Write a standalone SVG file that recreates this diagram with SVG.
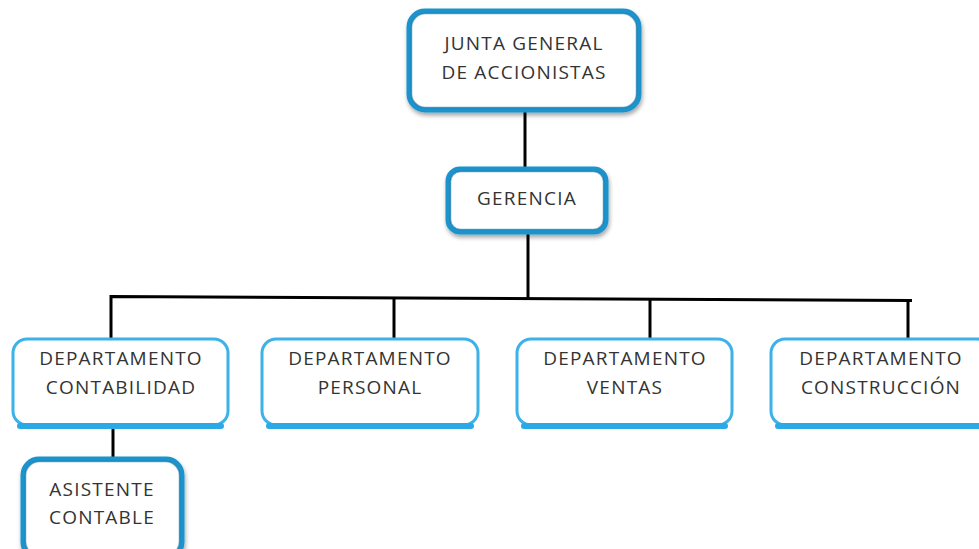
<svg xmlns="http://www.w3.org/2000/svg" width="979" height="549" viewBox="0 0 979 549">
<style>
.dark{fill:#fff;stroke:#1c93cc;stroke-width:5}
.dark2{fill:none;stroke:#0f6f9e;stroke-width:1.5;opacity:0.6}
.light{fill:#fff;stroke:#3cb2e8;stroke-width:3}
.bot{fill:none;stroke:#2aa9e6;stroke-width:6;stroke-linecap:round}
text{font-family:"Open Sans","Liberation Sans",sans-serif;font-size:19px;letter-spacing:1.2px;fill:#333;text-anchor:middle}
.ln{stroke:#000;stroke-width:3;fill:none}
</style>
<defs>
<filter id="sh" x="-10%" y="-10%" width="120%" height="130%"><feDropShadow dx="1" dy="3" stdDeviation="2" flood-color="#000" flood-opacity="0.35"/></filter>
</defs>
<g id="connectors">
<line class="ln" x1="525" y1="112" x2="525" y2="168"/>
<line class="ln" x1="528" y1="234" x2="528" y2="298"/>
<polyline class="ln" points="111,338 111,296.5 912,300.5 908,300.5 908,338"/>
<line class="ln" x1="394" y1="297.5" x2="394" y2="338"/>
<line class="ln" x1="650" y1="299" x2="650" y2="338"/>
<line class="ln" x1="113" y1="428" x2="113" y2="458"/>
</g>
<g id="junta">
<rect class="dark" x="409" y="11" width="230" height="99" rx="16" filter="url(#sh)"/>
<rect class="dark2" x="411.5" y="13.5" width="225" height="94" rx="14"/>
<text x="524" y="50">JUNTA GENERAL</text>
<text x="524" y="79">DE ACCIONISTAS</text>
</g>
<g id="gerencia">
<rect class="dark" x="448" y="169" width="158" height="63" rx="12" filter="url(#sh)"/>
<rect class="dark2" x="450.5" y="171.5" width="153" height="58" rx="10"/>
<text x="527" y="205">GERENCIA</text>
</g>
<g id="dep-contabilidad">
<rect class="light" x="13" y="339" width="215" height="86" rx="14"/>
<path class="bot" d="M20,426 H221"/>
<text x="121" y="365">DEPARTAMENTO</text>
<text x="121" y="394">CONTABILIDAD</text>
</g>
<g id="dep-personal">
<rect class="light" x="262" y="339" width="216" height="86" rx="14"/>
<path class="bot" d="M269,426 H471"/>
<text x="370" y="365">DEPARTAMENTO</text>
<text x="370" y="394">PERSONAL</text>
</g>
<g id="dep-ventas">
<rect class="light" x="517" y="339" width="215" height="86" rx="14"/>
<path class="bot" d="M524,426 H725"/>
<text x="625" y="365">DEPARTAMENTO</text>
<text x="625" y="394">VENTAS</text>
</g>
<g id="dep-construccion">
<rect class="light" x="771" y="339" width="220" height="86" rx="14"/>
<path class="bot" d="M778,426 H985"/>
<text x="881" y="365">DEPARTAMENTO</text>
<text x="881" y="394">CONSTRUCCIÓN</text>
</g>
<g id="asistente">
<rect class="dark" x="23" y="459" width="159" height="99" rx="16" filter="url(#sh)"/>
<rect class="dark2" x="25.5" y="461.5" width="154" height="94" rx="14"/>
<text x="102" y="496">ASISTENTE</text>
<text x="102" y="524">CONTABLE</text>
</g>
</svg>
